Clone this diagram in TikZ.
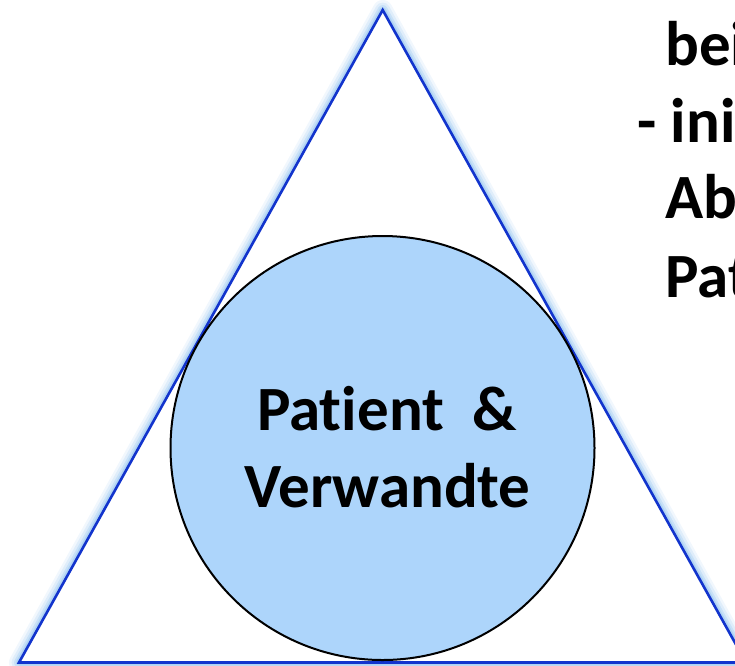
\documentclass[tikz,border=0pt]{standalone}
\usepackage{fontspec}
\setmainfont[Ligatures={NoCommon}]{Carlito}
\definecolor{triblue}{RGB}{18,52,205}
\definecolor{glowblue}{RGB}{120,180,235}
\definecolor{circfill}{RGB}{173,213,251}
\tikzset{
  triline/.style={draw=triblue, line width=2.6pt, line join=miter},
  glowline/.style={draw=glowblue, line join=round},
  bigtext/.style={font=\fontsize{63}{77}\selectfont\bfseries, inner sep=0pt, anchor=base},
  sidetext/.style={font=\fontsize{63}{77}\selectfont\bfseries, inner sep=0pt, anchor=base west},
  disc/.style={circle, minimum size=424pt, inner sep=0pt, fill=circfill, draw=black, line width=2pt}
}
\begin{document}
\begin{tikzpicture}[x=1pt,y=-1pt]
\useasboundingbox (0,0) rectangle (735,665);
\clip (0,0) rectangle (735,665);
\coordinate (A) at (382.7,10);
\coordinate (B) at (19,662.5);
\coordinate (C) at (746,662.5);
\foreach \w/\o in {20/0.10,15/0.15,10/0.22,6/0.3}
  \draw[glowline, line width=\w pt, opacity=\o] (A)--(B)--(C)--cycle;
\fill[white] (A)--(B)--(C)--cycle;
\draw[triline] (A)--(B)--(C)--cycle;
\node[disc] (c) at (382.5,448) {};
\node[bigtext] (t1) at (387,430) {Patient\ \ \&};
\node[bigtext] (t2) at (387.5,507) {Verwandte};
\node[sidetext] (s1) at (665,65) {bei};
\node[sidetext] (s2) at (637,142) {- ini};
\node[sidetext] (s3) at (665,218) {Ab};
\node[sidetext] (s4) at (665,297) {Pat};
\end{tikzpicture}
\end{document}
